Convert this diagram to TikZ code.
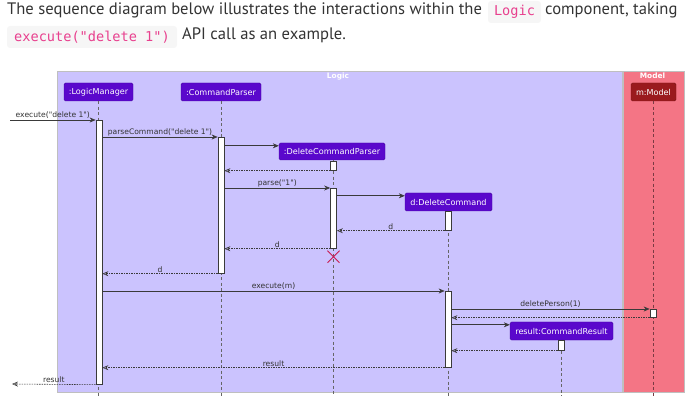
\documentclass[tikz,border=0pt]{standalone}
\usepackage{fontspec}
\setmainfont{PT Sans}
\newfontfamily\dia{DejaVu Sans}
\newfontfamily\codef{DejaVu Sans Mono}
\usetikzlibrary{arrows.meta,calc}
\definecolor{logicbg}{HTML}{CBC3FE}
\definecolor{modelbg}{HTML}{F47585}
\definecolor{partfill}{HTML}{5A08CC}
\definecolor{modelpart}{HTML}{9A1A1D}
\definecolor{codepink}{HTML}{E8408E}
\definecolor{codebg}{HTML}{F6F6F6}
\definecolor{txt}{HTML}{333333}
\definecolor{linec}{HTML}{3A3A3A}
\definecolor{crossc}{HTML}{C8184F}
\tikzset{
  part/.style={draw=partfill!80!black, fill=partfill, rounded corners=1.5pt, text=white, font=\dia\fontsize{8.1}{9}\selectfont, minimum height=18pt, inner sep=0pt},
  lifeline/.style={draw=gray!80!black, dashed, dash pattern=on 3pt off 2.5pt, line width=0.5pt},
  actbar/.style={draw=linec, fill=white, line width=0.7pt, minimum width=6pt, inner sep=0pt, anchor=north},
  msg/.style={draw=linec, line width=0.6pt, -{Stealth[length=6pt,width=5pt]}},
  ret/.style={draw=linec, line width=0.6pt, dash pattern=on 1.5pt off 1pt, -{Stealth[length=6pt,width=5pt,open]}},
  lbl/.style={font=\dia\fontsize{7.6}{8}\selectfont, text=txt, inner sep=1pt, above},
  codebox/.style={fill=codebg, rounded corners=3pt, text=codepink, font=\codef\fontsize{13.6}{14}\selectfont, inner sep=0pt},
  head/.style={font=\fontsize{16.6}{18}\selectfont, text=txt, inner sep=0pt, anchor=base west},
  boxtitle/.style={font=\dia\bfseries\fontsize{7.4}{8}\selectfont, text=white, inner sep=0pt}
}
\begin{document}
\begin{tikzpicture}[x=1pt,y=-1pt]
\useasboundingbox (0,0) rectangle (694,406);
% header
\node[head] (h1) at (7,15) {The sequence diagram below illustrates the interactions within the};
\node[codebox, minimum width=53pt, minimum height=22pt] (c1) at (514.5,12) {Logic};
\node[head] (h2) at (545,15) {component, taking};
\node[codebox, minimum width=170pt, minimum height=22pt] (c2) at (92,37) {execute("delete 1")};
\node[head] (h3) at (182,40) {API call as an example.};
% frames
\node[draw=gray!50, fill=logicbg, line width=0.6pt, minimum width=565.5pt, minimum height=321pt, anchor=north west, inner sep=0pt] (logic) at (56.5,71) {};
\node[draw=gray!50, fill=modelbg, line width=0.6pt, minimum width=61pt, minimum height=321pt, anchor=north west, inner sep=0pt] (model) at (623,71) {};
\node[boxtitle] (lt) at (338,76) {Logic};
\node[boxtitle] (mt) at (652.5,76) {Model};
% participants
\node[part, minimum width=69pt] (lm) at (98.5,92) {:LogicManager};
\node[part, minimum width=80pt] (cp) at (221,92) {:CommandParser};
\node[part, minimum width=106pt, minimum height=17pt] (dcp) at (332,151.5) {:DeleteCommandParser};
\node[part, minimum width=87pt] (dc) at (448.5,202) {d:DeleteCommand};
\node[part, minimum width=103pt] (cr) at (561.5,331) {result:CommandResult};
\node[part, fill=modelpart, draw=modelpart!80!black, minimum width=45pt] (mm) at (653.5,92) {m:Model};
% lifelines
\coordinate (lmE) at (98.5,396);
\coordinate (cpE) at (221,396);
\coordinate (dcpE) at (333.5,396);
\coordinate (dcE) at (448,396);
\coordinate (crE) at (561,396);
\coordinate (mmE) at (653,396);
\draw[lifeline] (lm.south) -- (lmE);
\draw[lifeline] (cp.south) -- (cpE);
\draw[lifeline] (dcp.south -| dcpE) -- (dcpE);
\draw[lifeline] (dc.south -| dcE) -- (dcE);
\draw[lifeline] (cr.south -| crE) -- (crE);
\draw[lifeline, draw=modelbg!50!black, dash pattern=on 3pt off 2.5pt] (mm.south -| mmE) -- (mmE);
% activation bars
\node[actbar, minimum height=264pt] (alm) at (99,120) {};
\node[actbar, minimum height=136pt] (acp) at (221,137) {};
\node[actbar, minimum height=9pt] (adcp1) at (333.5,161) {};
\node[actbar, minimum height=60pt] (adcp2) at (333.5,188) {};
\node[actbar, minimum height=19pt] (adc1) at (448,211) {};
\node[actbar, minimum height=76pt] (adc2) at (448,291) {};
\node[actbar, minimum height=8pt] (amm) at (653,309) {};
\node[actbar, minimum height=10pt] (acr) at (561,340) {};
% messages
\coordinate (in) at (10,120);
\coordinate (out) at (12,384);
\draw[msg] (in) -- node[lbl] {execute("delete 1")} (alm.north west);
\draw[msg] (alm.east |- acp.north) -- node[lbl] {parseCommand("delete 1")} (acp.north west);
\draw[msg] (acp.east |- {$(dcp.north west)+(0,3)$}) -- ($(dcp.north west)+(0,3)$);
\draw[ret] (adcp1.south west) -- (acp.east |- adcp1.south);
\draw[msg] (acp.east |- adcp2.north) -- node[lbl] {parse("1")} (adcp2.north west);
\draw[msg] (adcp2.east |- {$(dc.north west)+(0,3)$}) -- ($(dc.north west)+(0,3)$);
\draw[ret] (adc1.south west) -- node[lbl] {d} (adcp2.east |- adc1.south);
\draw[ret] (adcp2.south west) -- node[lbl] {d} (acp.east |- adcp2.south);
\draw[crossc, line width=0.9pt] ($(adcp2.south)+(-6,2)$) -- ($(adcp2.south)+(6,14)$) ($(adcp2.south)+(6,2)$) -- ($(adcp2.south)+(-6,14)$);
\draw[ret] (acp.south west) -- node[lbl] {d} (alm.east |- acp.south);
\draw[msg] (alm.east |- adc2.north) -- node[lbl] {execute(m)} (adc2.north west);
\draw[msg] (adc2.east |- amm.north) -- node[lbl] {deletePerson(1)} (amm.north west);
\draw[ret] (amm.south west) -- (adc2.east |- amm.south);
\draw[msg] (adc2.east |- {$(cr.north west)+(0,3)$}) -- ($(cr.north west)+(0,3)$);
\draw[ret] (acr.south west) -- (adc2.east |- acr.south);
\draw[ret] (adc2.south west) -- node[lbl] {result} (alm.east |- adc2.south);
\draw[ret] (alm.south west) -- node[lbl] {result} (out);
\end{tikzpicture}
\end{document}
